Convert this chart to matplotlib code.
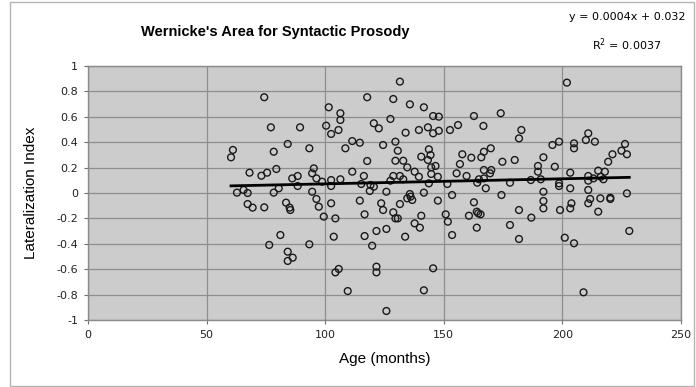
import numpy as np
import matplotlib.pyplot as plt
from matplotlib.patches import Rectangle

# age (months) and lateralization index per subject
age = [74.3, 77.1, 89.4, 84.2, 78.3, 93.3, 61.1, 60.3, 68.1, 73.1, 75.5, 79.4,
       86.1, 88.4, 95.2, 94.5, 96.3, 88.4, 80.4, 78.3, 62.8, 65.6, 67.3, 94.5,
       96.3, 97.3, 67.3, 69.4, 74.3, 83.5, 85.0, 85.3, 81.1, 76.4, 93.3, 84.2,
       86.3, 84.2,
       131.5, 117.7, 128.7, 135.7, 141.6, 101.5, 106.4, 106.4, 100.4, 102.5,
       105.6, 120.5, 122.6, 127.5, 133.9, 139.5, 143.3, 145.5, 147.9, 145.5,
       147.9, 111.4, 114.6, 108.5, 124.4, 129.6, 130.6, 129.6, 132.9, 134.6,
       117.7, 140.5, 143.7, 144.4, 143.3, 144.7, 146.5, 111.4, 137.7, 139.5,
       144.7, 128.7, 131.5, 127.5, 132.9, 116.3, 115.2, 102.5, 102.5, 106.4,
       98.7, 119.1, 120.5, 125.8, 135.7, 141.6, 143.7,
       102.5, 99.4, 104.3, 114.6, 116.6, 118.8, 123.6, 124.4, 128.7, 129.6,
       130.6, 131.5, 134.6, 136.0, 136.7, 147.5, 140.5, 137.7, 139.9, 125.8,
       121.6, 116.6, 103.6, 133.7, 119.8, 105.7, 104.3, 121.6, 121.6, 145.5,
       109.5, 141.6, 125.8,
       174.0, 162.7, 166.7, 156.0, 152.6, 182.7, 181.7, 195.8, 198.6, 169.8,
       166.9, 165.8, 157.8, 161.6, 174.7, 179.9, 192.0, 156.8, 147.5, 155.4,
       159.6, 166.9, 170.0, 169.5, 189.7, 189.7, 196.8, 164.8, 164.1, 166.9,
       151.5, 167.7, 177.9, 186.7, 190.9, 198.6, 192.0, 153.5, 174.3,
       192.0, 192.0, 162.7, 150.8, 151.7, 160.6, 163.9, 165.5, 164.5, 153.5,
       163.9, 181.7, 186.9, 177.9, 181.7, 199.0,
       201.9, 210.9, 209.9, 213.7, 204.9, 204.9, 226.4, 224.9, 227.2, 221.1,
       219.3, 217.9, 215.1, 203.3, 210.9, 213.1, 216.2, 217.3, 210.9, 198.6,
       203.3, 210.9, 227.2,
       203.8, 203.3, 211.7, 210.9, 216.0, 220.2, 220.2, 215.1, 201.0, 204.9,
       228.2, 208.9]

lat_index = [0.754, 0.517, 0.517, 0.386, 0.325, 0.352, 0.339, 0.281, 0.160, 0.136, 0.160, 0.189,
             0.115, 0.134, 0.194, 0.155, 0.115, 0.055, 0.037, 0.003, 0.003, 0.024, 0.000, 0.010,
             -0.047, -0.108, -0.087, -0.115, -0.113, -0.076, -0.115, -0.134, -0.331, -0.409, -0.404, -0.462,
             -0.509, -0.535,
             0.877, 0.754, 0.740, 0.698, 0.675, 0.675, 0.628, 0.575, 0.530, 0.465,
             0.496, 0.549, 0.509, 0.583, 0.475, 0.496, 0.517, 0.606, 0.601, 0.470,
             0.490, 0.409, 0.396, 0.352, 0.378, 0.404, 0.333, 0.254, 0.254, 0.202,
             0.252, 0.286, 0.344, 0.299, 0.260, 0.202, 0.213, 0.168, 0.168, 0.128,
             0.150, 0.134, 0.134, 0.097, 0.108, 0.134, 0.071, 0.102, 0.055, 0.108,
             0.089, 0.063, 0.050, 0.010, -0.008, 0.003, 0.076,
             -0.081, -0.186, -0.200, -0.060, -0.168, 0.016, -0.081, -0.134, -0.152, -0.200,
             -0.200, -0.087, -0.042, -0.029, -0.055, -0.060, -0.179, -0.239, -0.273, -0.283,
             -0.299, -0.339, -0.344, -0.344, -0.415, -0.598, -0.625, -0.580, -0.625, -0.593,
             -0.772, -0.766, -0.929,
             0.628, 0.606, 0.528, 0.535, 0.496, 0.496, 0.430, 0.378, 0.404, 0.352,
             0.325, 0.281, 0.305, 0.278, 0.246, 0.260, 0.281, 0.228, 0.128, 0.155,
             0.134, 0.181, 0.181, 0.155, 0.213, 0.168, 0.207, 0.108, 0.081, 0.115,
             0.071, 0.037, 0.081, 0.102, 0.108, 0.076, 0.010, -0.016, -0.016,
             -0.063, -0.121, -0.073, -0.168, -0.226, -0.179, -0.147, -0.168, -0.160, -0.331,
             -0.273, -0.134, -0.194, -0.252, -0.362, -0.134,
             0.869, 0.470, 0.417, 0.404, 0.391, 0.352, 0.386, 0.333, 0.305, 0.305,
             0.246, 0.168, 0.176, 0.160, 0.134, 0.115, 0.128, 0.108, 0.097, 0.055,
             0.037, 0.024, -0.003,
             -0.081, -0.121, -0.047, -0.081, -0.042, -0.037, -0.047, -0.147, -0.352, -0.396,
             -0.299, -0.782]

# linear trendline as reported
slope = 0.0004
intercept = 0.032
r_squared = 0.0037

x_ticks = [0, 50, 100, 150, 200, 250]
y_ticks = [-1, -0.8, -0.6, -0.4, -0.2, 0, 0.2, 0.4, 0.6, 0.8, 1]
y_tick_labels = ['-1', '-0.8', '-0.6', '-0.4', '-0.2', '0', '0.2', '0.4', '0.6', '0.8', '1']

fig = plt.figure(figsize=(6.96, 3.87), dpi=100)
fig.patches.append(Rectangle((10 / 696, 1 / 387), 684 / 696, 384 / 387,
                             transform=fig.transFigure, fill=False,
                             edgecolor='#b4b4b4', linewidth=1.0))

ax = fig.add_axes([88 / 696, 67 / 387, 593 / 696, 254 / 387])
ax.set_facecolor('#cccccc')
ax.set_xlim(0, 250)
ax.set_ylim(-1, 1)
ax.set_xticks(x_ticks)
ax.set_yticks(y_ticks)
ax.set_yticklabels(y_tick_labels)
ax.grid(True, color='#8e8e8e', linewidth=0.9)
ax.set_axisbelow(True)
for side in ax.spines:
    ax.spines[side].set_color('#8a8a8a')
    ax.spines[side].set_linewidth(1.0)
ax.tick_params(direction='out', length=3, width=0.8, color='#707070',
               labelsize=8, labelcolor='#222222', pad=4)
for lbl in ax.get_xticklabels() + ax.get_yticklabels():
    lbl.set_family('DejaVu Sans')

ax.scatter(age, lat_index, s=24, facecolors='none', edgecolors='#1a1a1a',
           linewidths=1.0, zorder=3)

xt = np.array([min(age), max(age)])
ax.plot(xt, slope * xt + intercept, color='black', linewidth=2.0, zorder=4)

ax.set_xlabel('Age (months)', family='Liberation Sans', fontsize=11, labelpad=9)
ax.set_ylabel('Lateralization Index', family='Liberation Sans', fontsize=11, labelpad=13)

fig.text(275 / 696, 1 - 32 / 387, "Wernicke's Area for Syntactic Prosody",
         family='Liberation Sans', fontweight='bold', fontsize=10.5,
         ha='center', va='center')
fig.text(627 / 696, 1 - 17 / 387, 'y = %.4fx + %.3f' % (slope, intercept),
         family='DejaVu Sans', fontsize=8, ha='center', va='center')
fig.text(627 / 696, 1 - 45 / 387, '$\\mathregular{R^2}$ = %.4f' % r_squared,
         family='DejaVu Sans', fontsize=8, ha='center', va='center')

fig.savefig('out.png', dpi=100)
